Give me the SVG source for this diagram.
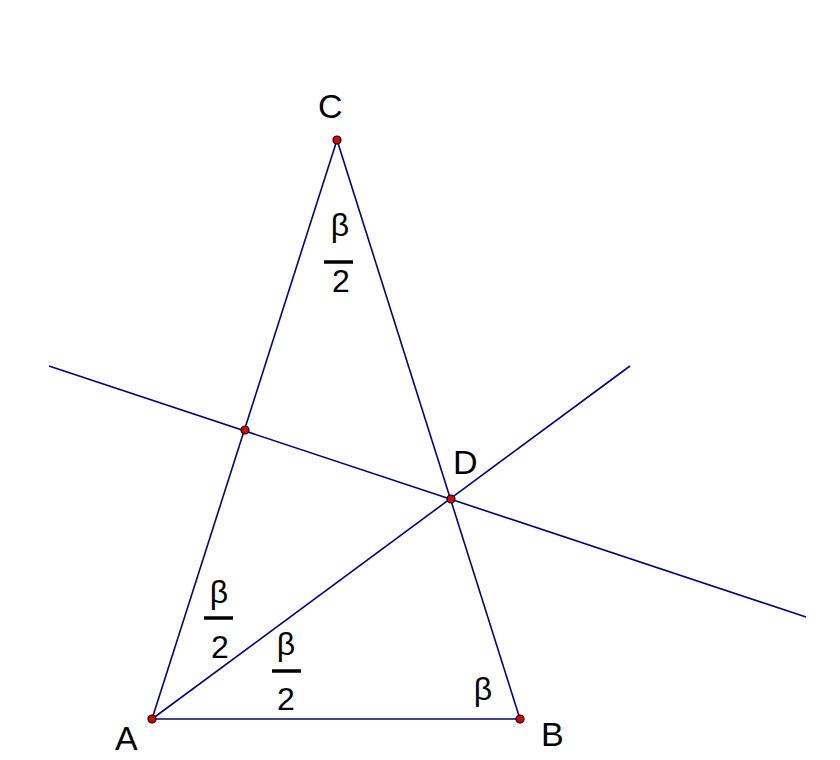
<svg xmlns="http://www.w3.org/2000/svg" width="840" height="760" viewBox="0 0 840 760">
<style>
.ln{stroke:#00008f;stroke-width:1.6;fill:none}
.pt{fill:#e00000;stroke:#000;stroke-width:1.2}
.lbl{font-family:"Liberation Sans",Arial,sans-serif;font-size:34px;fill:#000}
.fr{font-family:"Liberation Sans",Arial,sans-serif;font-size:32px;fill:#000;text-anchor:middle}
.bar{stroke:#000;stroke-width:3.5}
</style>
<rect width="840" height="760" fill="#fff"/>
<g id="connectors">
<line class="ln" x1="152" y1="719" x2="520" y2="719"/>
<line class="ln" x1="152" y1="719" x2="337" y2="140"/>
<line class="ln" x1="520" y1="719" x2="337" y2="140"/>
<line class="ln" x1="49" y1="366" x2="806" y2="617"/>
<line class="ln" x1="152" y1="719" x2="630" y2="366"/>
</g>
<g id="A"><circle class="pt" cx="152" cy="719" r="4"/><text class="lbl" x="115" y="750">A</text></g>
<g id="B"><circle class="pt" cx="520" cy="719" r="4"/><text class="lbl" x="541" y="746">B</text></g>
<g id="C"><circle class="pt" cx="337" cy="140" r="4"/><text class="lbl" x="318" y="118">C</text></g>
<g id="D"><circle class="pt" cx="451" cy="499" r="4"/><text class="lbl" x="453" y="474">D</text></g>
<g id="M"><circle class="pt" cx="245" cy="430" r="4"/></g>
<g id="angleC"><text class="fr" x="340" y="236">β</text><line class="bar" x1="324" y1="262" x2="353" y2="262"/><text class="fr" x="341" y="292">2</text></g>
<g id="angleA1"><text class="fr" x="219" y="603">β</text><line class="bar" x1="204" y1="618" x2="233" y2="618"/><text class="fr" x="220" y="658">2</text></g>
<g id="angleA2"><text class="fr" x="286" y="655">β</text><line class="bar" x1="272" y1="671" x2="301" y2="671"/><text class="fr" x="286" y="710">2</text></g>
<g id="angleB"><text class="fr" x="483" y="700">β</text></g>
</svg>
